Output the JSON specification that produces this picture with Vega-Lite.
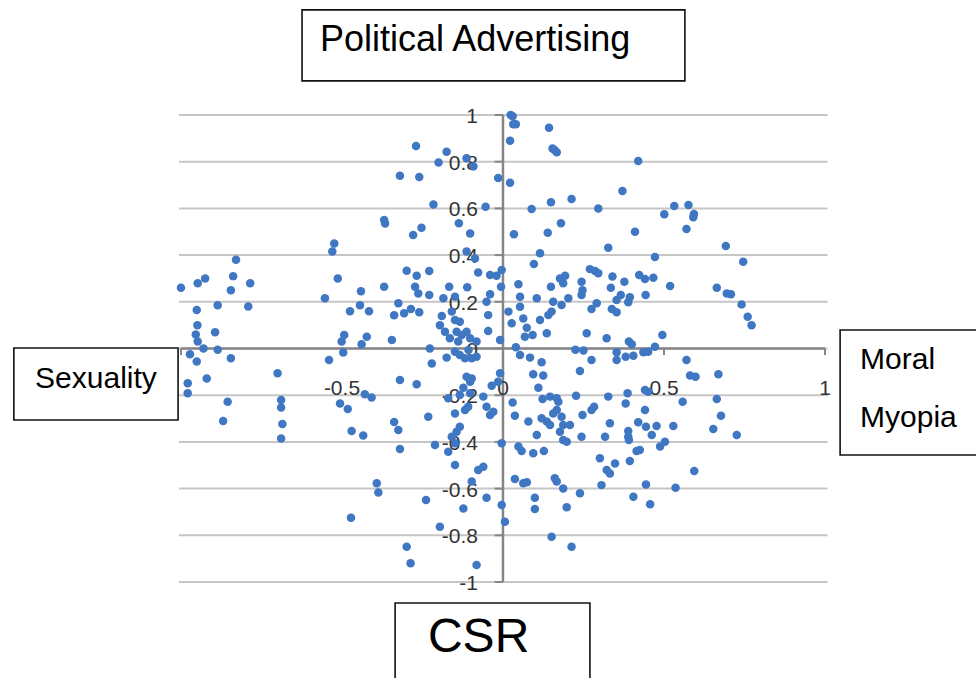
{
  "$schema": "https://vega.github.io/schema/vega-lite/v6.json",
  "width": 976,
  "height": 678,
  "autosize": {"type": "none"},
  "padding": 0,
  "background": "white",
  "config": {"view": {"stroke": null}},
  "datasets": {
    "points": [
      {"x":-1.0,"y":0.26},{"x":-0.948,"y":0.28},{"x":-0.925,"y":0.30},{"x":-0.829,"y":0.38},{"x":-0.838,"y":0.31},
      {"x":-0.845,"y":0.25},{"x":-0.785,"y":0.28},{"x":-0.951,"y":0.165},{"x":-0.886,"y":0.185},{"x":-0.791,"y":0.18},
      {"x":-0.949,"y":0.10},{"x":-0.894,"y":0.07},{"x":-0.954,"y":0.06},{"x":-0.948,"y":0.03},{"x":-0.93,"y":0.0},
      {"x":-0.972,"y":-0.025},{"x":-0.886,"y":-0.005},{"x":-0.553,"y":0.215},{"x":-0.524,"y":0.45},{"x":-0.53,"y":0.415},
      {"x":-0.513,"y":0.30},{"x":-0.441,"y":0.245},{"x":-0.444,"y":0.185},{"x":-0.475,"y":0.16},{"x":-0.416,"y":0.16},
      {"x":-0.493,"y":0.058},{"x":-0.501,"y":0.03},{"x":-0.423,"y":0.05},{"x":-0.439,"y":0.018},{"x":-0.496,"y":-0.017},
      {"x":-0.369,"y":0.55},{"x":-0.366,"y":0.535},{"x":-0.369,"y":0.265},{"x":-0.345,"y":0.036},{"x":-0.338,"y":0.142},
      {"x":0.024,"y":1.0},{"x":0.03,"y":0.995},{"x":0.032,"y":0.96},{"x":0.04,"y":0.96},{"x":0.022,"y":0.89},
      {"x":0.143,"y":0.945},{"x":0.154,"y":0.857},{"x":0.167,"y":0.84},{"x":0.16,"y":0.85},{"x":-0.27,"y":0.867},
      {"x":-0.175,"y":0.843},{"x":-0.20,"y":0.797},{"x":-0.113,"y":0.815},{"x":-0.092,"y":0.78},{"x":-0.32,"y":0.74},
      {"x":-0.26,"y":0.735},{"x":-0.015,"y":0.73},{"x":0.022,"y":0.71},{"x":-0.216,"y":0.617},{"x":-0.054,"y":0.607},
      {"x":0.089,"y":0.597},{"x":0.149,"y":0.626},{"x":0.213,"y":0.64},{"x":0.296,"y":0.60},{"x":-0.137,"y":0.536},
      {"x":-0.253,"y":0.517},{"x":-0.279,"y":0.486},{"x":-0.102,"y":0.493},{"x":0.034,"y":0.489},{"x":0.139,"y":0.496},
      {"x":0.18,"y":0.536},{"x":-0.113,"y":0.415},{"x":-0.087,"y":0.386},{"x":0.115,"y":0.408},{"x":0.096,"y":0.362},
      {"x":-0.299,"y":0.333},{"x":-0.229,"y":0.332},{"x":-0.268,"y":0.312},{"x":-0.077,"y":0.326},{"x":-0.04,"y":0.315},
      {"x":-0.02,"y":0.312},{"x":-0.004,"y":0.336},{"x":-0.006,"y":0.265},{"x":-0.273,"y":0.265},{"x":-0.263,"y":0.236},
      {"x":-0.229,"y":0.229},{"x":-0.167,"y":0.265},{"x":-0.111,"y":0.262},{"x":-0.185,"y":0.215},{"x":-0.149,"y":0.222},
      {"x":-0.325,"y":0.194},{"x":-0.286,"y":0.169},{"x":-0.26,"y":0.155},{"x":-0.307,"y":0.151},{"x":-0.051,"y":0.20},
      {"x":-0.04,"y":0.232},{"x":-0.046,"y":0.143},{"x":-0.19,"y":0.139},{"x":-0.159,"y":0.158},{"x":-0.149,"y":0.122},
      {"x":-0.134,"y":0.115},{"x":-0.196,"y":0.10},{"x":-0.18,"y":0.072},{"x":-0.165,"y":0.044},{"x":-0.144,"y":0.072},
      {"x":-0.128,"y":0.058},{"x":-0.113,"y":0.072},{"x":-0.139,"y":0.03},{"x":-0.102,"y":0.044},{"x":-0.082,"y":0.03},
      {"x":-0.046,"y":0.075},{"x":-0.009,"y":0.036},{"x":-0.227,"y":0.0},{"x":0.048,"y":0.275},{"x":0.053,"y":0.222},
      {"x":0.053,"y":0.179},{"x":0.017,"y":0.158},{"x":0.027,"y":0.108},{"x":0.063,"y":0.129},{"x":0.074,"y":0.089},
      {"x":0.068,"y":0.05},{"x":0.092,"y":0.058},{"x":0.105,"y":0.215},{"x":0.115,"y":0.122},{"x":0.141,"y":0.143},
      {"x":0.151,"y":0.158},{"x":0.136,"y":0.065},{"x":0.149,"y":0.265},{"x":0.156,"y":0.20},{"x":0.182,"y":0.186},
      {"x":0.177,"y":0.30},{"x":0.193,"y":0.312},{"x":0.187,"y":0.279},{"x":0.203,"y":0.215},{"x":0.244,"y":0.286},
      {"x":0.247,"y":0.25},{"x":0.244,"y":0.229},{"x":0.27,"y":0.34},{"x":0.286,"y":0.332},{"x":0.296,"y":0.322},
      {"x":0.291,"y":0.194},{"x":0.275,"y":0.169},{"x":0.26,"y":0.065},{"x":0.327,"y":0.432},{"x":0.322,"y":0.044},
      {"x":0.225,"y":-0.005},{"x":0.25,"y":-0.008},{"x":0.04,"y":0.005},{"x":0.053,"y":-0.028},
      {"x":0.42,"y":0.803},{"x":0.371,"y":0.675},{"x":0.501,"y":0.575},{"x":0.532,"y":0.61},{"x":0.576,"y":0.615},
      {"x":0.591,"y":0.562},{"x":0.593,"y":0.576},{"x":0.57,"y":0.512},{"x":0.41,"y":0.50},{"x":0.472,"y":0.392},
      {"x":0.692,"y":0.439},{"x":0.746,"y":0.372},{"x":0.34,"y":0.308},{"x":0.377,"y":0.286},{"x":0.423,"y":0.315},
      {"x":0.441,"y":0.298},{"x":0.467,"y":0.303},{"x":0.335,"y":0.26},{"x":0.519,"y":0.268},{"x":0.366,"y":0.229},
      {"x":0.394,"y":0.22},{"x":0.353,"y":0.208},{"x":0.389,"y":0.198},{"x":0.443,"y":0.229},{"x":0.338,"y":0.169},
      {"x":0.353,"y":0.155},{"x":0.664,"y":0.26},{"x":0.695,"y":0.236},{"x":0.708,"y":0.232},{"x":0.741,"y":0.189},
      {"x":0.76,"y":0.136},{"x":0.772,"y":0.10},{"x":0.495,"y":0.058},{"x":0.391,"y":0.03},{"x":0.4,"y":0.018},
      {"x":0.472,"y":0.008},
      {"x":0.353,"y":-0.016},{"x":0.353,"y":-0.049},{"x":0.381,"y":-0.035},{"x":0.405,"y":-0.031},{"x":0.436,"y":-0.016},
      {"x":0.451,"y":-0.014},{"x":0.57,"y":-0.049},{"x":0.581,"y":-0.116},{"x":0.598,"y":-0.121},{"x":0.669,"y":-0.11},
      {"x":0.327,"y":-0.206},{"x":0.387,"y":-0.192},{"x":0.381,"y":-0.235},{"x":0.441,"y":-0.178},{"x":0.451,"y":-0.185},
      {"x":0.441,"y":-0.263},{"x":0.558,"y":-0.228},{"x":0.664,"y":-0.216},{"x":0.677,"y":-0.288},{"x":0.332,"y":-0.32},
      {"x":0.42,"y":-0.316},{"x":0.444,"y":-0.335},{"x":0.477,"y":-0.332},{"x":0.529,"y":-0.332},{"x":0.653,"y":-0.345},
      {"x":0.726,"y":-0.37},{"x":0.389,"y":-0.353},{"x":0.389,"y":-0.378},{"x":0.462,"y":-0.37},{"x":0.391,"y":-0.392},
      {"x":0.503,"y":-0.399},{"x":0.488,"y":-0.42},{"x":0.415,"y":-0.439},{"x":0.425,"y":-0.435},{"x":0.317,"y":-0.378},
      {"x":0.394,"y":-0.482},{"x":0.348,"y":-0.492},{"x":0.322,"y":-0.52},{"x":0.332,"y":-0.535},{"x":0.594,"y":-0.525},
      {"x":0.444,"y":-0.582},{"x":0.536,"y":-0.596},{"x":0.405,"y":-0.635},{"x":0.457,"y":-0.667},
      {"x":-0.951,"y":-0.056},{"x":-0.845,"y":-0.042},{"x":-0.92,"y":-0.128},{"x":-0.979,"y":-0.149},{"x":-0.979,"y":-0.192},
      {"x":-0.855,"y":-0.228},{"x":-0.869,"y":-0.31},{"x":-0.70,"y":-0.106},{"x":-0.689,"y":-0.22},{"x":-0.689,"y":-0.253},
      {"x":-0.685,"y":-0.323},{"x":-0.689,"y":-0.385},{"x":-0.54,"y":-0.049},{"x":-0.506,"y":-0.235},{"x":-0.482,"y":-0.259},
      {"x":-0.429,"y":-0.196},{"x":-0.408,"y":-0.21},{"x":-0.47,"y":-0.353},{"x":-0.434,"y":-0.373},{"x":-0.392,"y":-0.577},
      {"x":-0.387,"y":-0.617},{"x":-0.472,"y":-0.725},{"x":-0.338,"y":-0.315},
      {"x":-0.221,"y":-0.064},{"x":-0.175,"y":-0.039},{"x":-0.149,"y":-0.014},{"x":-0.134,"y":-0.028},{"x":-0.118,"y":-0.042},
      {"x":-0.097,"y":-0.042},{"x":-0.082,"y":-0.035},{"x":-0.107,"y":-0.006},{"x":-0.113,"y":-0.121},{"x":-0.097,"y":-0.128},
      {"x":-0.102,"y":-0.142},{"x":-0.32,"y":-0.135},{"x":-0.268,"y":-0.153},{"x":-0.123,"y":-0.168},{"x":-0.134,"y":-0.199},
      {"x":-0.102,"y":-0.192},{"x":-0.17,"y":-0.213},{"x":-0.061,"y":-0.206},{"x":-0.035,"y":-0.159},{"x":-0.009,"y":-0.106},
      {"x":-0.015,"y":-0.142},{"x":-0.051,"y":-0.249},{"x":-0.04,"y":-0.285},{"x":-0.03,"y":-0.271},{"x":-0.108,"y":-0.249},
      {"x":-0.118,"y":-0.263},{"x":-0.149,"y":-0.278},{"x":-0.232,"y":-0.292},{"x":-0.325,"y":-0.349},{"x":-0.134,"y":-0.335},
      {"x":-0.144,"y":-0.356},{"x":-0.159,"y":-0.378},{"x":-0.211,"y":-0.413},{"x":-0.149,"y":-0.406},{"x":-0.17,"y":-0.442},
      {"x":-0.32,"y":-0.43},{"x":-0.004,"y":-0.406},{"x":-0.149,"y":-0.499},{"x":-0.077,"y":-0.52},{"x":-0.061,"y":-0.506},
      {"x":-0.097,"y":-0.57},{"x":-0.051,"y":-0.639},{"x":-0.123,"y":-0.685},{"x":-0.239,"y":-0.649},{"x":-0.004,"y":-0.67},
      {"x":0.006,"y":-0.742},{"x":-0.196,"y":-0.763},{"x":-0.299,"y":-0.849},{"x":-0.287,"y":-0.92},{"x":-0.082,"y":-0.927},
      {"x":0.084,"y":-0.039},{"x":0.12,"y":-0.059},{"x":0.094,"y":-0.11},{"x":0.125,"y":-0.116},{"x":0.11,"y":-0.168},
      {"x":0.275,"y":-0.049},{"x":0.239,"y":-0.096},{"x":0.03,"y":-0.231},{"x":0.037,"y":-0.288},{"x":0.079,"y":-0.313},
      {"x":0.123,"y":-0.216},{"x":0.146,"y":-0.206},{"x":0.167,"y":-0.213},{"x":0.172,"y":-0.228},{"x":0.227,"y":-0.202},
      {"x":0.12,"y":-0.299},{"x":0.136,"y":-0.313},{"x":0.156,"y":-0.278},{"x":0.167,"y":-0.263},{"x":0.182,"y":-0.292},
      {"x":0.146,"y":-0.328},{"x":0.187,"y":-0.328},{"x":0.208,"y":-0.328},{"x":0.177,"y":-0.356},{"x":0.187,"y":-0.392},
      {"x":0.198,"y":-0.399},{"x":0.247,"y":-0.285},{"x":0.275,"y":-0.263},{"x":0.244,"y":-0.378},{"x":0.105,"y":-0.37},
      {"x":0.048,"y":-0.42},{"x":0.058,"y":-0.439},{"x":0.094,"y":-0.449},{"x":0.127,"y":-0.439},{"x":0.301,"y":-0.47},
      {"x":0.037,"y":-0.559},{"x":0.063,"y":-0.577},{"x":0.074,"y":-0.573},{"x":0.161,"y":-0.556},{"x":0.167,"y":-0.57},
      {"x":0.187,"y":-0.599},{"x":0.239,"y":-0.62},{"x":0.306,"y":-0.585},{"x":0.099,"y":-0.639},{"x":0.099,"y":-0.687},
      {"x":0.198,"y":-0.68},{"x":0.151,"y":-0.806},{"x":0.213,"y":-0.849},{"x":0.283,"y":-0.249}
    ],
    "gridY": [
      {"v":-1},{"v":-0.8},{"v":-0.6},{"v":-0.4},{"v":-0.2},{"v":0},{"v":0.2},{"v":0.4},{"v":0.6},{"v":0.8},{"v":1}
    ],
    "yLabels": [
      {"v":1,"label":"1"},{"v":0.8,"label":"0.8"},{"v":0.6,"label":"0.6"},{"v":0.4,"label":"0.4"},{"v":0.2,"label":"0.2"},
      {"v":0,"label":"0"},{"v":-0.2,"label":"-0.2"},{"v":-0.4,"label":"-0.4"},{"v":-0.6,"label":"-0.6"},{"v":-0.8,"label":"-0.8"},{"v":-1,"label":"-1"}
    ],
    "xLabels": [
      {"v":-0.5,"label":"-0.5"},{"v":0,"label":"0"},{"v":0.5,"label":"0.5"},{"v":1,"label":"1"}
    ],
    "xTicks": [{"v":-1},{"v":-0.5},{"v":0.5},{"v":1}],
    "boxes": [
      {"name":"Political Advertising","x0":-0.624,"x1":0.565,"y0":1.45,"y1":1.146},
      {"name":"Sexuality","x0":-1.519,"x1":-1.009,"y0":0.002,"y1":-0.306},
      {"name":"Moral Myopia","x0":1.047,"x1":1.52,"y0":0.079,"y1":-0.456},
      {"name":"CSR","x0":-0.335,"x1":0.27,"y0":-1.09,"y1":-1.48}
    ],
    "boxText": [
      {"label":"Political Advertising","group":"title","x":-0.568,"y":1.274},
      {"label":"Sexuality","group":"side","x":-1.453,"y":-0.167},
      {"label":"Moral","group":"side","x":1.109,"y":-0.087},
      {"label":"Myopia","group":"side","x":1.109,"y":-0.336},
      {"label":"CSR","group":"csr","x":-0.233,"y":-1.30}
    ]
  },
  "layer": [
    {
      "data": {"name": "gridY"},
      "mark": {"type": "rule", "color": "#c6c6c6", "strokeWidth": 2},
      "encoding": {
        "y": {"field": "v", "type": "quantitative", "scale": {"domain": [-1.411, 1.4925], "nice": false, "zero": false}, "axis": null},
        "x": {"datum": -1.006, "type": "quantitative", "scale": {"domain": [-1.562, 1.469], "nice": false, "zero": false}, "axis": null},
        "x2": {"datum": 1.008}
      }
    },
    {
      "data": {"values": [{}]},
      "mark": {"type": "rule", "color": "#868686", "strokeWidth": 2.5},
      "encoding": {
        "x": {"datum": -1, "type": "quantitative", "scale": {"domain": [-1.562, 1.469], "nice": false, "zero": false}, "axis": null},
        "x2": {"datum": 1},
        "y": {"datum": 0, "type": "quantitative", "scale": {"domain": [-1.411, 1.4925], "nice": false, "zero": false}, "axis": null}
      }
    },
    {
      "data": {"values": [{}]},
      "mark": {"type": "rule", "color": "#868686", "strokeWidth": 2.5},
      "encoding": {
        "x": {"datum": 0, "type": "quantitative", "scale": {"domain": [-1.562, 1.469], "nice": false, "zero": false}, "axis": null},
        "y": {"datum": -1, "type": "quantitative", "scale": {"domain": [-1.411, 1.4925], "nice": false, "zero": false}, "axis": null},
        "y2": {"datum": 1}
      }
    },
    {
      "data": {"name": "gridY"},
      "mark": {"type": "rule", "color": "#868686", "strokeWidth": 2},
      "encoding": {
        "y": {"field": "v", "type": "quantitative", "scale": {"domain": [-1.411, 1.4925], "nice": false, "zero": false}, "axis": null},
        "x": {"datum": -0.026, "type": "quantitative", "scale": {"domain": [-1.562, 1.469], "nice": false, "zero": false}, "axis": null},
        "x2": {"datum": 0}
      }
    },
    {
      "data": {"name": "xTicks"},
      "mark": {"type": "rule", "color": "#868686", "strokeWidth": 2},
      "encoding": {
        "x": {"field": "v", "type": "quantitative", "scale": {"domain": [-1.562, 1.469], "nice": false, "zero": false}, "axis": null},
        "y": {"datum": 0, "type": "quantitative", "scale": {"domain": [-1.411, 1.4925], "nice": false, "zero": false}, "axis": null},
        "y2": {"datum": -0.028}
      }
    },
    {
      "data": {"name": "yLabels"},
      "mark": {"type": "text", "align": "right", "baseline": "middle", "dx": -25, "dy": 2, "font": "Liberation Sans", "fontSize": 21, "color": "#333333"},
      "encoding": {
        "y": {"field": "v", "type": "quantitative", "scale": {"domain": [-1.411, 1.4925], "nice": false, "zero": false}, "axis": null},
        "x": {"datum": 0, "type": "quantitative", "scale": {"domain": [-1.562, 1.469], "nice": false, "zero": false}, "axis": null},
        "text": {"field": "label", "type": "nominal"}
      }
    },
    {
      "data": {"name": "xLabels"},
      "mark": {"type": "text", "align": "center", "baseline": "middle", "dy": 40, "font": "Liberation Sans", "fontSize": 21, "color": "#333333"},
      "encoding": {
        "x": {"field": "v", "type": "quantitative", "scale": {"domain": [-1.562, 1.469], "nice": false, "zero": false}, "axis": null},
        "y": {"datum": 0, "type": "quantitative", "scale": {"domain": [-1.411, 1.4925], "nice": false, "zero": false}, "axis": null},
        "text": {"field": "label", "type": "nominal"}
      }
    },
    {
      "data": {"name": "points"},
      "mark": {"type": "circle", "size": 72, "color": "#3f77c3", "opacity": 1},
      "encoding": {
        "x": {"field": "x", "type": "quantitative", "scale": {"domain": [-1.562, 1.469], "nice": false, "zero": false}, "axis": null},
        "y": {"field": "y", "type": "quantitative", "scale": {"domain": [-1.411, 1.4925], "nice": false, "zero": false}, "axis": null}
      }
    },
    {
      "data": {"name": "boxes"},
      "mark": {"type": "rect", "fill": "white", "stroke": "#111111", "strokeWidth": 1.6},
      "encoding": {
        "x": {"field": "x0", "type": "quantitative", "scale": {"domain": [-1.562, 1.469], "nice": false, "zero": false}, "axis": null},
        "x2": {"field": "x1"},
        "y": {"field": "y0", "type": "quantitative", "scale": {"domain": [-1.411, 1.4925], "nice": false, "zero": false}, "axis": null},
        "y2": {"field": "y1"}
      }
    },
    {
      "data": {"name": "boxText"},
      "transform": [{"filter": "datum.group === 'title'"}],
      "mark": {"type": "text", "align": "left", "baseline": "alphabetic", "font": "Liberation Sans", "fontSize": 36, "color": "#000000"},
      "encoding": {
        "x": {"field": "x", "type": "quantitative", "scale": {"domain": [-1.562, 1.469], "nice": false, "zero": false}, "axis": null},
        "y": {"field": "y", "type": "quantitative", "scale": {"domain": [-1.411, 1.4925], "nice": false, "zero": false}, "axis": null},
        "text": {"field": "label", "type": "nominal"}
      }
    },
    {
      "data": {"name": "boxText"},
      "transform": [{"filter": "datum.group === 'side'"}],
      "mark": {"type": "text", "align": "left", "baseline": "alphabetic", "font": "Liberation Sans", "fontSize": 30, "color": "#000000"},
      "encoding": {
        "x": {"field": "x", "type": "quantitative", "scale": {"domain": [-1.562, 1.469], "nice": false, "zero": false}, "axis": null},
        "y": {"field": "y", "type": "quantitative", "scale": {"domain": [-1.411, 1.4925], "nice": false, "zero": false}, "axis": null},
        "text": {"field": "label", "type": "nominal"}
      }
    },
    {
      "data": {"name": "boxText"},
      "transform": [{"filter": "datum.group === 'csr'"}],
      "mark": {"type": "text", "align": "left", "baseline": "alphabetic", "font": "Liberation Sans", "fontSize": 48, "color": "#000000"},
      "encoding": {
        "x": {"field": "x", "type": "quantitative", "scale": {"domain": [-1.562, 1.469], "nice": false, "zero": false}, "axis": null},
        "y": {"field": "y", "type": "quantitative", "scale": {"domain": [-1.411, 1.4925], "nice": false, "zero": false}, "axis": null},
        "text": {"field": "label", "type": "nominal"}
      }
    }
  ]
}
